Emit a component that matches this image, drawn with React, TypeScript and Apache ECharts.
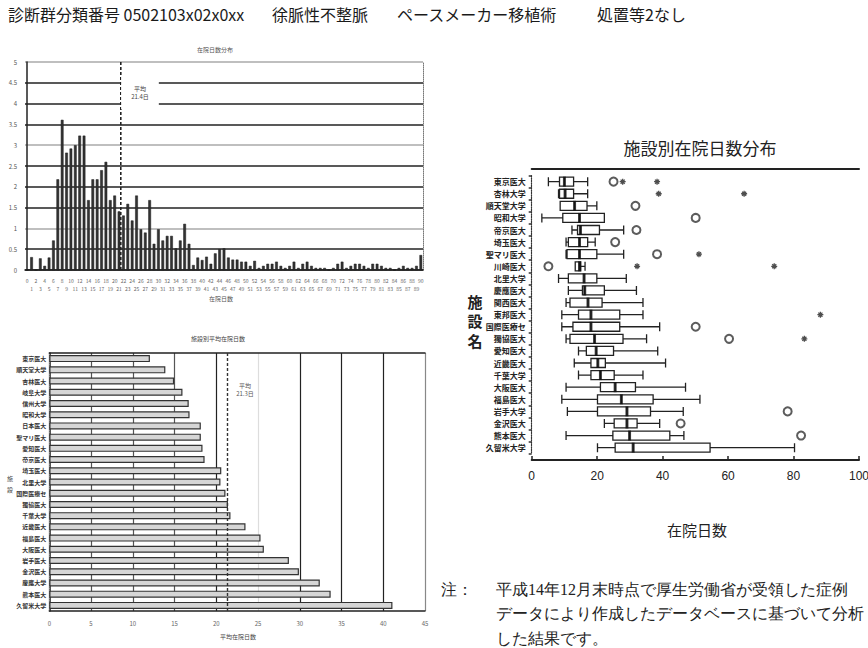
import React, { useEffect, useRef } from 'react';
import * as echarts from 'echarts';

// ---------- header ----------
const HEADER_PARTS = ['診断群分類番号 0502103x02x0xx', '徐脈性不整脈', 'ペースメーカー移植術', '処置等2なし'];
const HEADER_X = [8, 272, 397, 597];

// ---------- histogram: 在院日数分布 (%) ----------
const HIST_DAYS = [
  '0','1','2','3','4','5','6','7','8','9','10','11','12','13','14','15','16','17','18','19',
  '20','21','22','23','24','25','26','27','28','29','30','31','32','33','34','35','36','37','38','39',
  '40','41','42','43','44','45','46','47','48','49','50','51','52','53','54','55','56','57','58','59',
  '60','61','62','63','64','65','66','67','68','69','70','71','72','73','74','75','76','77','78','79',
  '80','81','82','83','84','85','86','87','88','89','90'
];
const HIST_PCT = [
  0, 0.31, 0, 0.28, 0.1, 0.3, 0.71, 2.18, 3.61, 2.82,
  2.92, 3.0, 3.23, 3.23, 1.68, 2.18, 2.18, 2.4, 2.6, 1.68,
  1.79, 1.41, 1.31, 1.59, 1.19, 1.79, 0.98, 0.9, 1.68, 0.63,
  0.98, 0.71, 0.82, 0.82, 0.52, 0.71, 1.11, 0.63, 0.12, 0.3,
  0.24, 0.32, 0.15, 0.4, 0.5, 0.52, 0.3, 0.25, 0.25, 0.2,
  0.2, 0.1, 0.22, 0.05, 0.1, 0.15, 0.15, 0.2, 0.1, 0.05,
  0.1, 0.2, 0.05, 0.15, 0.2, 0.1, 0.05, 0.05, 0.05, 0,
  0.05, 0.15, 0.2, 0.05, 0.1, 0.15, 0.15, 0.1, 0.05, 0.15,
  0.15, 0.1, 0.05, 0.05, 0, 0.05, 0.1, 0.05, 0.05, 0.1, 0.36
];
const HIST_MEAN_DAY = 21.4;
const HIST_MEAN_LABEL = '平均\n21.4日';

// ---------- horizontal bars: 施設別平均在院日数 ----------
const BAR_HOSPITALS = [
  '東京医大','順天堂大学','杏林医大','岐阜大学','信州大学','昭和大学','日本医大','聖マリ医大',
  '愛知医大','帝京医大','埼玉医大','北里大学','国際医療セ','獨協医大','千葉大学','近畿医大',
  '福島医大','大阪医大','岩手医大','金沢医大','慶應大学','熊本医大','久留米大学'
];
const BAR_MEAN_DAYS = [
  12.05, 13.9, 14.95, 15.95, 16.7, 16.8, 18.15, 18.15, 18.35, 18.6,
  20.6, 20.5, 21.1, 21.4, 21.7, 23.5, 25.3, 25.7, 28.7, 29.9, 32.4, 33.7, 41.1
];
const BAR_OVERALL_MEAN = 21.3;
const BAR_MEAN_LABEL = '平均\n21.3日';

// ---------- box plot: 施設別在院日数分布 ----------
const BOX_HOSPITALS = [
  '東京医大','杏林大学','順天堂大学','昭和大学','帝京医大','埼玉医大','聖マリ医大','川崎医大',
  '北里大学','慶應医大','関西医大','東邦医大','国際医療セ','獨協医大','愛知医大','近畿医大',
  '千葉大学','大阪医大','福島医大','岩手大学','金沢医大','熊本医大','久留米大学'
];
const BOX_MIN = [5.1, 8.2, 8.7, 3.1, 12.3, 10.5, 10.5, 13.3, 8.2, 11.2, 10.5, 9.2, 9.2, 10.5, 14.3, 13.0, 14.3, 10.5, 9.2, 10.9, 22.2, 10.5, 20.1];
const BOX_Q1 = [8.5, 8.5, 8.7, 9.5, 14.0, 11.2, 10.8, 13.3, 11.2, 15.5, 11.7, 14.3, 12.6, 11.7, 16.7, 18.1, 18.1, 21.0, 20.1, 20.1, 25.2, 24.8, 25.5];
const BOX_MED = [10.0, 10.2, 13.1, 14.6, 14.9, 14.6, 14.6, 14.6, 16.0, 16.2, 17.2, 18.1, 18.1, 19.2, 19.7, 20.2, 21.0, 25.5, 27.4, 29.1, 29.1, 29.9, 31.0];
const BOX_Q3 = [12.8, 12.8, 16.9, 22.2, 20.7, 17.1, 19.9, 15.0, 19.9, 22.2, 21.5, 26.9, 26.9, 27.9, 25.0, 22.5, 25.2, 31.7, 37.1, 36.3, 32.2, 42.2, 54.5];
const BOX_MAX = [17.1, 17.1, 19.9, 22.2, 28.1, 19.4, 28.1, 16.3, 28.9, 32.0, 34.0, 34.0, 39.1, 35.1, 38.5, 40.9, 34.0, 47.0, 51.4, 46.3, 39.1, 46.5, 80.3];
const CIRCLE_OUTLIERS: [number, number][] = [
  [25.0, 0], [31.7, 2], [50.1, 3], [32.0, 4], [25.5, 5], [38.3, 6], [5.1, 7],
  [50.1, 12], [60.3, 13], [78.2, 19], [45.5, 20], [82.3, 21]
];
const STAR_OUTLIERS: [number, number][] = [
  [27.8, 0], [38.3, 0], [38.8, 1], [64.9, 1], [51.1, 6], [32.2, 7], [74.1, 7], [88.2, 11], [83.3, 13]
];

const BOX_Y_NAME = ['施', '設', '名'];

const NOTE_LINES = [
  '平成14年12月末時点で厚生労働省が受領した症例',
  'データにより作成したデータベースに基づいて分析',
  'した結果です。'
];

const JP = "'Noto Sans CJK JP', 'Noto Sans', sans-serif";
const NARROW = "'Liberation Sans Narrow', 'Arial Narrow', 'Liberation Sans', sans-serif";

function txt(x: number, y: number, text: string, fontSize: number, extra: any = {}) {
  return {
    type: 'text',
    x,
    y,
    z: 100,
    style: {
      text,
      fontSize,
      fontFamily: JP,
      fill: '#222',
      align: 'left',
      verticalAlign: 'middle',
      ...extra,
    },
  };
}

export default function App() {
  const ref = useRef<HTMLDivElement>(null);

  useEffect(() => {
    if (!ref.current) return;
    const chart = echarts.init(ref.current, undefined, { renderer: 'svg', width: 868, height: 648 });

    const starPath = 'path://M5,0L5,10M0,5L10,5M1.6,1.6L8.4,8.4M1.6,8.4L8.4,1.6';

    const graphics: any[] = [];
    HEADER_PARTS.forEach((t, i) => graphics.push(txt(HEADER_X[i], 14, t, 16, { fill: '#1a1a1a' })));
    // histogram decorations
    graphics.push(txt(215, 49, '在院日数分布', 6, { align: 'center', fill: '#555' }));
    graphics.push(txt(221, 298, '在院日数', 6, { align: 'center', fill: '#555' }));
    graphics.push(txt(140, 92, HIST_MEAN_LABEL, 6, {
      align: 'center', fill: '#444', backgroundColor: '#fff', padding: [9, 10, 9, 10], lineHeight: 8,
    }));
    // bar chart decorations
    graphics.push(txt(218, 338, '施設別平均在院日数', 6, { align: 'center', fill: '#444' }));
    graphics.push(txt(238, 636, '平均在院日数', 6, { align: 'center', fill: '#444' }));
    graphics.push(txt(10, 478, '施', 6, { align: 'center', fill: '#444' }));
    graphics.push(txt(10, 489, '設', 6, { align: 'center', fill: '#444' }));
    graphics.push(txt(245, 389, BAR_MEAN_LABEL, 6, { align: 'center', fill: '#555', lineHeight: 8 }));
    // box plot decorations
    graphics.push(txt(700, 147, '施設別在院日数分布', 17, { align: 'center' }));
    graphics.push(txt(697, 529, '在院日数', 15, { align: 'center' }));
    BOX_Y_NAME.forEach((c, i) =>
      graphics.push(txt(475, 301 + i * 19.5, c, 15, { align: 'center', fontWeight: 'bold', lineHeight: 15 }))
    );
    // note
    graphics.push(txt(441, 589, '注：', 16, { fontFamily: 'serif' }));
    NOTE_LINES.forEach((t, i) => graphics.push(txt(496, 589 + i * 24.5, t, 16, { fontFamily: 'serif' })));

    const option: any = {
      animation: false,
      backgroundColor: '#ffffff',
      textStyle: { fontFamily: JP },
      grid: [
        { left: 25, top: 62, width: 398, height: 208, outerBoundsMode: 'none', containLabel: false },
        { left: 49.3, top: 353, width: 375.7, height: 258, outerBoundsMode: 'none', containLabel: false },
        { left: 531.7, top: 175.6, width: 327.3, height: 278.1, outerBoundsMode: 'none', containLabel: false },
      ],
      xAxis: [
        {
          type: 'category', gridIndex: 0, data: HIST_DAYS,
          axisLine: { lineStyle: { color: '#222', width: 1.5 } },
          axisTick: { show: false },
          axisLabel: {
            interval: 0, fontSize: 5, color: '#666', margin: 6, lineHeight: 8,
            formatter: (v: string, i: number) => (i % 2 ? '\n' + v : v),
          },
          splitLine: { show: false },
        },
        { type: 'value', gridIndex: 0, min: -0.5, max: 90.5, show: false },
        {
          type: 'value', gridIndex: 1, min: 0, max: 45, interval: 5,
          axisLine: { show: true, lineStyle: { color: '#222', width: 1.5 } },
          axisTick: { show: false },
          axisLabel: { fontSize: 6, color: '#666', margin: 9 },
          splitLine: {
            show: true,
            lineStyle: {
              width: 1.2,
              color: ['#333', '#555', '#555', '#555', '#222', '#ddd', '#222', '#222', '#222', '#888'],
            },
          },
        },
        {
          type: 'value', gridIndex: 1, position: 'top', min: 0, max: 45,
          axisLine: { show: true, lineStyle: { color: '#222', width: 1.5 } },
          axisTick: { show: false }, axisLabel: { show: false }, splitLine: { show: false },
        },
        {
          type: 'value', gridIndex: 2, min: 0, max: 100, interval: 20, offset: 6.3,
          axisLine: { show: true, lineStyle: { color: '#222', width: 2 } },
          axisTick: { show: true, inside: true, length: 4, lineStyle: { color: '#222', width: 1.5 } },
          axisLabel: { fontSize: 12, color: '#222', margin: 10, fontFamily: NARROW },
          splitLine: { show: false },
        },
        {
          type: 'value', gridIndex: 2, position: 'top', min: 0, max: 100, offset: 6.6,
          axisLine: { show: true, lineStyle: { color: '#222', width: 2 } },
          axisTick: { show: false }, axisLabel: { show: false }, splitLine: { show: false },
        },
      ],
      yAxis: [
        {
          type: 'value', gridIndex: 0, min: 0, max: 5, interval: 0.5,
          axisLine: { show: true, lineStyle: { color: '#222', width: 1.5 } },
          axisTick: { show: false },
          axisLabel: { fontSize: 6, color: '#555', margin: 8 },
          splitLine: {
            show: true,
            lineStyle: {
              width: 1.6,
              color: ['#222', '#222', '#aaa', '#222', '#222', '#222', '#aaa', '#222', '#222', '#222', '#aaa'],
            },
          },
        },
        {
          type: 'value', gridIndex: 0, position: 'right', min: 0, max: 5,
          axisLine: { show: true, lineStyle: { color: '#777', width: 1, type: 'dotted' } },
          axisTick: { show: false }, axisLabel: { show: false }, splitLine: { show: false },
        },
        {
          type: 'category', gridIndex: 1, data: BAR_HOSPITALS, inverse: true,
          axisLine: { show: true, lineStyle: { color: '#222', width: 1.5 } },
          axisTick: { show: false },
          axisLabel: { fontSize: 6, color: '#333', fontWeight: 'bold', margin: 3 },
        },
        {
          type: 'value', gridIndex: 1, position: 'right', min: 0, max: 1,
          axisLine: { show: true, lineStyle: { color: '#888', width: 1, type: 'dotted' } },
          axisTick: { show: false }, axisLabel: { show: false }, splitLine: { show: false },
        },
        {
          type: 'category', gridIndex: 2, data: BOX_HOSPITALS, inverse: true,
          axisLine: { show: true, lineStyle: { color: '#333', width: 1.2, type: 'dotted' } },
          axisTick: { show: true, length: 3, lineStyle: { color: '#333', width: 1.5 } },
          axisLabel: { fontSize: 8, color: '#222', fontWeight: 'bold', margin: 6 },
        },
      ],
      series: [
        {
          type: 'bar', xAxisIndex: 0, yAxisIndex: 0, data: HIST_PCT, barWidth: '62%',
          itemStyle: { color: '#333', borderColor: '#1a1a1a', borderWidth: 0.5 },
        },
        {
          type: 'line', xAxisIndex: 1, yAxisIndex: 0, symbol: 'none',
          data: [[HIST_MEAN_DAY, 0], [HIST_MEAN_DAY, 5]],
          lineStyle: { color: '#222', width: 1.6, type: [3, 2] },
        },
        {
          type: 'bar', xAxisIndex: 2, yAxisIndex: 2, data: BAR_MEAN_DAYS, barWidth: 7,
          itemStyle: { color: '#d6d6d6', borderColor: '#333', borderWidth: 1.2 },
          markLine: {
            silent: true, symbol: 'none', label: { show: false },
            lineStyle: { color: '#333', width: 1.4, type: [3, 2] },
            data: [{ xAxis: BAR_OVERALL_MEAN }],
          },
        },
        {
          type: 'boxplot', xAxisIndex: 4, yAxisIndex: 4, layout: 'horizontal',
          boxWidth: [9, 9],
          data: BOX_HOSPITALS.map((_, i) => [BOX_MIN[i], BOX_Q1[i], BOX_MED[i], BOX_Q3[i], BOX_MAX[i]]),
          itemStyle: { color: '#ffffff', borderColor: '#222', borderWidth: 1.3 },
        },
        {
          type: 'scatter', xAxisIndex: 4, yAxisIndex: 4, symbol: 'rect', symbolSize: [3, 10],
          data: BOX_HOSPITALS.map((h, i) => [BOX_MED[i], h]),
          itemStyle: { color: '#111' }, z: 5,
        },
        {
          type: 'scatter', xAxisIndex: 4, yAxisIndex: 4, symbol: 'emptyCircle', symbolSize: 8,
          data: CIRCLE_OUTLIERS.map(([v, i]) => [v, BOX_HOSPITALS[i]]),
          itemStyle: { color: '#333', borderWidth: 1 },
        },
        {
          type: 'scatter', xAxisIndex: 4, yAxisIndex: 4, symbol: starPath, symbolSize: 6,
          data: STAR_OUTLIERS.map(([v, i]) => [v, BOX_HOSPITALS[i]]),
          itemStyle: { color: 'none', borderColor: '#222', borderWidth: 1.3 },
        },
      ],
      graphic: graphics,
    };

    chart.setOption(option);
    return () => chart.dispose();
  }, []);

  return (
    <div
      ref={ref}
      style={{ position: 'absolute', left: 0, top: 0, width: 868, height: 648, background: '#fff' }}
    />
  );
}
